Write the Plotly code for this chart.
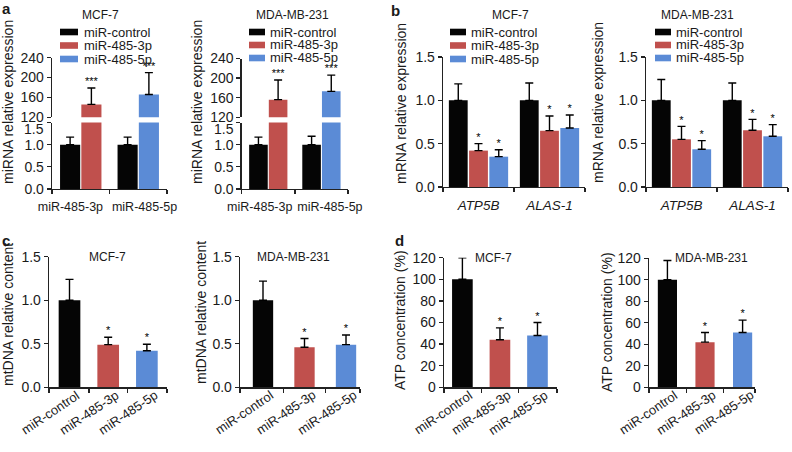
import plotly.graph_objects as go

W, H = 792, 452

# ---------------- data ----------------
series_names = ["miR-control", "miR-485-3p", "miR-485-5p"]
cell_lines = ["MCF-7", "MDA-MB-231"]

# panel a: miRNA relative expression (control vs mimic, per miRNA)
a_groups = ["miR-485-3p", "miR-485-5p"]
a_mcf7_ctrl = [1.0, 1.0]
a_mcf7_ctrl_top = [1.17, 1.17]
a_mcf7_treat = [146, 166]
a_mcf7_treat_top = [179, 210]
a_mda_ctrl = [1.0, 1.0]
a_mda_ctrl_top = [1.17, 1.19]
a_mda_treat = [156, 173]
a_mda_treat_top = [196, 206]
a_sig = ["***", "***"]

# panel b: mRNA relative expression
b_genes = ["ATP5B", "ALAS-1"]
b_mcf7_ctrl = [1.0, 1.0]
b_mcf7_ctrl_top = [1.19, 1.20]
b_mcf7_3p = [0.42, 0.65]
b_mcf7_3p_top = [0.50, 0.82]
b_mcf7_5p = [0.35, 0.68]
b_mcf7_5p_top = [0.43, 0.83]
b_mda_ctrl = [1.0, 1.0]
b_mda_ctrl_top = [1.24, 1.20]
b_mda_3p = [0.55, 0.655]
b_mda_3p_top = [0.70, 0.78]
b_mda_5p = [0.435, 0.585]
b_mda_5p_top = [0.535, 0.72]
b_sig = ["*", "*"]

# panel c: mtDNA relative content
c_mcf7 = [1.0, 0.49, 0.42]
c_mcf7_top = [1.24, 0.575, 0.495]
c_mda = [1.0, 0.46, 0.49]
c_mda_top = [1.22, 0.56, 0.60]
cd_sig = ["", "*", "*"]

# panel d: ATP concentration (%)
d_mcf7 = [100, 44, 48]
d_mcf7_top = [120, 55, 60]
d_mda = [100, 42, 51]
d_mda_top = [118, 51, 62.5]

# ---------------- style ----------------
FONT = "Liberation Sans, Arial, sans-serif"
TXT = "#1a1a1a"
AXC = "#222222"
COLORS = ["#050505", "#C0504D", "#5B8BD6"]

fig = go.Figure()
layout = dict(width=W, height=H, margin=dict(l=0, r=0, t=0, b=0, autoexpand=False), autosize=False,
              paper_bgcolor="white", plot_bgcolor="white", barmode="overlay",
              showlegend=False, font=dict(family=FONT, color=TXT))
shapes, annotations = [], []


def axname(aid):
    return ("xaxis" if aid[0] == "x" else "yaxis") + aid[1:]


def xdom(p0, p1):
    return [p0 / W, p1 / W]


def ydom(top, bottom):
    return [1 - bottom / H, 1 - top / H]


def add_x(xid, yid, p0, p1, rng, labels, label_pos=None, size=12.5, minor_vals=None,
          italic=False, lab_pad=6, show_labels=True):
    text = ["<i>%s</i>" % l for l in labels] if italic else list(labels)
    pos = label_pos if label_pos is not None else list(range(len(labels)))
    layout[axname(xid)] = dict(
        domain=xdom(p0, p1), range=rng, anchor=yid, showline=True, linecolor=AXC, linewidth=1.3,
        tickmode="array", tickvals=pos, ticktext=text, showticklabels=show_labels,
        ticks="outside", ticklen=lab_pad, tickcolor="rgba(0,0,0,0)", tickangle=0,
        tickfont=dict(size=size, family=FONT, color=TXT),
        minor=dict(tickmode="array", tickvals=minor_vals, ticks="outside", ticklen=4,
                   tickcolor=AXC, tickwidth=1.3),
        showgrid=False, zeroline=False, fixedrange=True, automargin=False)


def add_y(yid, xid, top, bottom, rng, dtick, fmt, tickvals=None, ticktext=None):
    d = dict(
        domain=ydom(top, bottom), range=rng, anchor=xid, showline=True, linecolor=AXC,
        linewidth=1.3, ticks="outside", ticklen=4, tickwidth=1.3, tickcolor=AXC,
        tickfont=dict(size=14, family=FONT, color=TXT),
        showgrid=False, zeroline=False, fixedrange=True, automargin=False)
    if tickvals is not None:
        d.update(tickmode="array", tickvals=tickvals, ticktext=ticktext)
    else:
        d.update(tick0=rng[0], dtick=dtick, tickformat=fmt)
    layout[axname(yid)] = d


def bars(xid, yid, pos, vals, tops, colors, width):
    fig.add_bar(x=pos, y=vals, width=width, marker=dict(color=colors, line=dict(width=0)),
                error_y=dict(type="data", symmetric=False,
                             array=[t - v for v, t in zip(vals, tops)],
                             arrayminus=[0] * len(vals), color="black", thickness=1.4, width=4),
                xaxis=xid, yaxis=yid, hoverinfo="skip")


def stars(xid, yid, pos, tops, sig, size=11):
    fig.add_scatter(x=pos, y=tops, mode="text", text=sig, textposition="top center",
                    textfont=dict(size=size, color="black", family=FONT), cliponaxis=False,
                    xaxis=xid, yaxis=yid, hoverinfo="skip")


def legend(sx0, sx1, tx, rows):
    for name, col, cy in zip(series_names, COLORS, rows):
        shapes.append(dict(type="rect", xref="paper", yref="paper", x0=sx0 / W, x1=sx1 / W,
                           y0=1 - (cy + 3.3) / H, y1=1 - (cy - 3.3) / H,
                           fillcolor=col, line=dict(width=0)))
        annotations.append(dict(text=name, xref="paper", yref="paper", x=tx / W, y=1 - cy / H,
                                xanchor="left", yanchor="middle", showarrow=False,
                                font=dict(size=13, family=FONT, color=TXT)))


def label(text, px, py, size=12, angle=0, bold=False, anchor="center"):
    annotations.append(dict(text="<b>%s</b>" % text if bold else text, xref="paper", yref="paper",
                            x=px / W, y=1 - py / H, xanchor=anchor, yanchor="middle",
                            showarrow=False, textangle=angle,
                            font=dict(size=size, family=FONT, color=TXT)))


# ---------------- panel a ----------------
for (xid, ylo, yup, p0, p1, ytop, lab_off, ctrl, ctrl_t, tr, tr_t) in [
    ("x", "y", "y2", 52, 167, 57.7, [-0.18, 0.11], a_mcf7_ctrl, a_mcf7_ctrl_top, a_mcf7_treat, a_mcf7_treat_top),
    ("x2", "y3", "y4", 241.7, 348, 58.5, [-0.16, 0.16], a_mda_ctrl, a_mda_ctrl_top, a_mda_treat, a_mda_treat_top),
]:
    n = len(a_groups)
    add_x(xid, ylo, p0, p1, [-0.5, n - 0.5], a_groups, label_pos=[i + o for i, o in zip(range(n), lab_off)],
          size=12.5, minor_vals=[-0.5, 0.5, 1.5], lab_pad=6)
    add_y(ylo, xid, 122.5, 189, [0, 1.5], 0.5, ".1f",
          tickvals=[0, 0.5, 1.0, 1.5], ticktext=["0.0", "0.5", "1.0", ""])
    add_y(yup, xid, ytop, 117.3, [120, 240], 40, "d")
    # "1.5" label of the lower segment sits a little below its tick (as in the original)
    annotations.append(dict(text="1.5", xref="paper", yref=ylo, x=(p0 - 6) / W, y=1.5, yshift=-6,
                            xanchor="right", yanchor="middle", showarrow=False,
                            font=dict(size=14, family=FONT, color=TXT)))
    cpos = [i - 0.185 for i in range(n)]
    tpos = [i + 0.185 for i in range(n)]
    tcol = COLORS[1:1 + n]
    bars(xid, ylo, cpos, ctrl, ctrl_t, COLORS[0], 0.35)
    bars(xid, ylo, tpos, tr, tr_t, tcol, 0.35)
    bars(xid, yup, tpos, tr, tr_t, tcol, 0.35)
    stars(xid, yup, tpos, tr_t, a_sig, size=11)

# ---------------- panel b ----------------
for (xid, yid, p0, p1, data) in [
    ("x3", "y5", 443, 585, [(b_mcf7_ctrl, b_mcf7_ctrl_top), (b_mcf7_3p, b_mcf7_3p_top), (b_mcf7_5p, b_mcf7_5p_top)]),
    ("x4", "y6", 646, 788, [(b_mda_ctrl, b_mda_ctrl_top), (b_mda_3p, b_mda_3p_top), (b_mda_5p, b_mda_5p_top)]),
]:
    n = len(b_genes)
    add_x(xid, yid, p0, p1, [-0.5, n - 0.5], b_genes, size=13.5, minor_vals=[-0.5, 0.5, 1.5],
          italic=True, lab_pad=5)
    add_y(yid, xid, 57, 187, [0, 1.5], 0.5, ".1f")
    for k, (vals, tops) in enumerate(data):
        pos = [i + (k - 1) * 0.285 for i in range(n)]
        bars(xid, yid, pos, vals, tops, COLORS[k], 0.265)
        if k > 0:
            stars(xid, yid, pos, tops, b_sig, size=11)

# ---------------- panels c and d ----------------
for (xid, yid, p0, p1, rng, top, bottom, yr, dt, fmt, vals, tops, bw) in [
    ("x5", "y7", 49, 167, [-0.53, 2.52], 256.7, 387.3, [0, 1.5], 0.5, ".1f", c_mcf7, c_mcf7_top, 0.56),
    ("x6", "y8", 240, 360, [-0.554, 2.337], 256.7, 387.3, [0, 1.5], 0.5, ".1f", c_mda, c_mda_top, 0.49),
    ("x7", "y9", 444, 557, [-0.49, 2.52], 257.7, 387.3, [0, 120], 20, "d", d_mcf7, d_mcf7_top, 0.55),
    ("x8", "y10", 649, 755, [-0.49, 2.33], 258.3, 387.3, [0, 120], 20, "d", d_mda, d_mda_top, 0.51),
]:
    n = len(series_names)
    add_x(xid, yid, p0, p1, rng, series_names, minor_vals=[rng[0], 0.5, 1.5, rng[1]],
          show_labels=False)
    add_y(yid, xid, top, bottom, yr, dt, fmt)
    pos = list(range(n))
    bars(xid, yid, pos, vals, tops, COLORS[:n], bw)
    stars(xid, yid, pos, tops, cd_sig, size=11)
    # rotated category labels, tied to the category positions of this axis
    for i, name in enumerate(series_names):
        annotations.append(dict(text=name, xref=xid, yref="paper", x=i, xshift=-19,
                                y=1 - (bottom + 25) / H, xanchor="center", yanchor="middle",
                                textangle=-34, showarrow=False,
                                font=dict(size=13, family=FONT, color=TXT)))

# ---------------- legends ----------------
legend(60, 78, 82, [32, 45.5, 59])
legend(249, 265, 268, [32, 45, 58])
legend(450, 466, 469, [32, 45.5, 59])
legend(655, 671, 674, [32, 45, 58])

# ---------------- titles / labels ----------------
label(cell_lines[0], 100, 15, 12)
label(cell_lines[1], 292, 15, 12)
label(cell_lines[0], 510, 15, 12)
label(cell_lines[1], 697, 15, 12)
label(cell_lines[0], 108, 257, 12)
label(cell_lines[1], 293, 257, 12)
label(cell_lines[0], 493, 258, 12)
label(cell_lines[1], 673, 258, 12, anchor="left")

label("a", 6, 9, 15, bold=True)
label("b", 395, 10, 15, bold=True)
label("c", 6, 240, 15, bold=True)
label("d", 399, 240, 15, bold=True)

label("miRNA relative expression", 8, 102, 14, angle=-90)
label("miRNA relative expression", 197, 102, 14, angle=-90)
label("mRNA relative expression", 401, 103, 14, angle=-90)
label("mRNA relative expression", 598, 103, 14, angle=-90)
label("mtDNA relative content", 8, 315, 14, angle=-90)
label("mtDNA relative content", 201, 313, 14, angle=-90)
label("ATP concentration (%)", 400, 320, 14, angle=-90)
label("ATP concentration (%)", 607, 322, 14, angle=-90)

layout["shapes"] = shapes
layout["annotations"] = annotations
fig.update_layout(**layout)
# remove the browser's default 8px body margin so the figure sits at the page origin
fig.write_html("out.html", config={"displayModeBar": False, "staticPlot": True},
               post_script="document.body.style.margin='0px';")
